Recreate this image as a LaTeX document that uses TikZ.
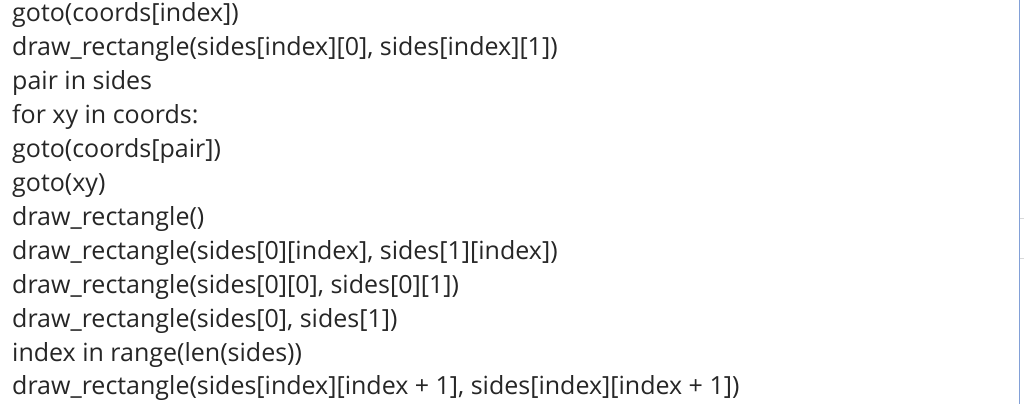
\documentclass[tikz,border=0pt]{standalone}
\usepackage{fontspec}
\setmainfont{Open Sans}
\begin{document}
\begin{tikzpicture}[x=1pt,y=-1pt,line/.style={anchor=base west,inner sep=0pt,font=\fontsize{25}{30}\selectfont,text=black!85}]
\useasboundingbox[fill=white] (0,0) rectangle (1024,404);
\draw[color={rgb,255:red,130;green,160;blue,215},line width=1pt] (1019.5,0) -- (1019.5,404);
\draw[black!15,line width=1pt] (1020,218) -- (1024,218) (1020,258) -- (1024,258);
\foreach \t [count=\i from 0] in {goto(coords[index]),draw\_rectangle(sides[index][0]{,} sides[index][1]),pair in sides,for xy in coords:,goto(coords[pair]),goto(xy),draw\_rectangle(),draw\_rectangle(sides[0][index]{,} sides[1][index]),draw\_rectangle(sides[0][0]{,} sides[0][1]),draw\_rectangle(sides[0]{,} sides[1]),index in range(len(sides)),draw\_rectangle(sides[index][index + 1]{,} sides[index][index + 1])}
  \node[line] (l\i) at (12,{22+33.9*\i}) {\t};
\end{tikzpicture}
\end{document}
